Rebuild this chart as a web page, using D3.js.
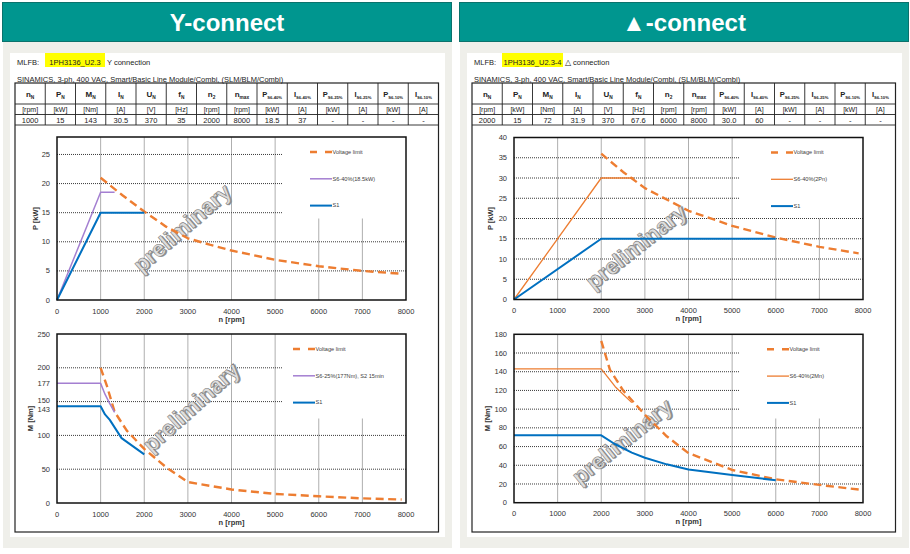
<!DOCTYPE html>
<html>
<head>
<meta charset="utf-8">
<script src="https://cdn.jsdelivr.net/npm/d3@7"></script>
<style>
  body { margin: 0; background: #fff; }
  text { font-family: "Liberation Sans", Arial, sans-serif; }
</style>
</head>
<body>
<svg id="chart" width="910" height="554"></svg>
<script>
// ---- data ----
var rpmTicks = [0, 1000, 2000, 3000, 4000, 5000, 6000, 7000, 8000];

var tableMain = ["n", "P", "M", "I", "U", "f", "n", "n", "P", "I", "P", "I", "P", "I"];
var tableSub = ["N", "N", "N", "N", "N", "N", "2", "max", "S6-40%", "S6-40%", "S6-25%", "S6-25%", "S6-10%", "S6-10%"];
var tableUnits = ["[rpm]", "[kW]", "[Nm]", "[A]", "[V]", "[Hz]", "[rpm]", "[rpm]", "[kW]", "[A]", "[kW]", "[A]", "[kW]", "[A]"];
var yTableValues = ["1000", "15", "143", "30.5", "370", "35", "2000", "8000", "18.5", "37", "-", "-", "-", "-"];
var dTableValues = ["2000", "15", "72", "31.9", "370", "67.6", "6000", "8000", "30.0", "60", "-", "-", "-", "-"];

// Y connection, power
var yPowerVoltN = [1000, 1500, 2000, 2500, 3000, 3500, 4000, 5000, 6000, 7000, 7900];
var yPowerVoltP = [21, 18, 15.2, 12.6, 10.6, 9.5, 8.5, 6.9, 5.8, 5.0, 4.5];
var yPowerS6N = [0, 1000, 1320];
var yPowerS6P = [0, 18.5, 18.5];
var yPowerS1N = [0, 1000, 2000];
var yPowerS1P = [0, 15, 15];
var yPowerTicks = [0, 5, 10, 15, 20, 25];

// Y connection, torque
var yTorqueVoltN = [1000, 1150, 1320, 1600, 2000, 2500, 3000, 4000, 5000, 6000, 7000, 7900];
var yTorqueVoltM = [200, 172, 135, 107, 80, 53, 31, 20, 13.4, 10, 6.8, 5.2];
var yTorqueS6N = [0, 1000, 1100, 1200, 1320];
var yTorqueS6M = [177, 177, 161, 148, 134];
var yTorqueS1N = [0, 1000, 1100, 1210, 1480, 2000];
var yTorqueS1M = [143, 143, 131, 123, 96, 72];
var yTorqueTicks = [0, 50, 100, 143, 150, 177, 200, 250];
var yTorqueGrid = [50, 100, 150, 200];

// Delta connection, power
var dPowerVoltN = [2000, 2500, 3000, 4000, 5000, 6000, 7000, 7900];
var dPowerVoltP = [36, 31.5, 27.5, 21.9, 18.2, 15.3, 13.0, 11.4];
var dPowerS6N = [0, 2000, 2750];
var dPowerS6P = [0, 30, 30];
var dPowerS1N = [0, 2000, 6000];
var dPowerS1P = [0, 15, 15];
var dPowerTicks = [0, 5, 10, 15, 20, 25, 30, 35, 40];

// Delta connection, torque
var dTorqueVoltN = [2000, 2200, 2500, 3000, 3500, 4000, 5000, 6000, 7000, 8000];
var dTorqueVoltM = [173, 142, 120, 94, 71, 53, 35, 25, 19, 13.5];
var dTorqueS6N = [0, 2000, 2320, 2700];
var dTorqueS6M = [143, 143, 124, 107];
var dTorqueS1N = [0, 2000, 2300, 2700, 3000, 3500, 4000, 5000, 6000];
var dTorqueS1M = [72, 72, 63, 53.5, 48, 41, 35.5, 29.5, 24];
var dTorqueTicks = [0, 20, 40, 60, 80, 100, 120, 140, 160, 180];

// ---- styles ----
var ORANGE = "#ed7d31", BLUE = "#0070c0", PURPLE = "#a47fd1";
var styleVolt = { color: ORANGE, width: 2.4, dash: "8,4.5", legendDash: "7,8" };
var styleS1 = { color: BLUE, width: 2, dash: null };
var stylePurple = { color: PURPLE, width: 1.5, dash: null };
var styleOrangeThin = { color: ORANGE, width: 1.3, dash: null };

// small nudges so the close tick labels 143 / 150 don't collide
var tickNudge = { 143: 3.2, 150: -0.8 };

function zip(n, v) { return n.map(function(d, i) { return [d, v[i]]; }); }

var panels = [
  {
    dx: 0, title: "Y-connect", mlfb: "1PH3136_U2.3", conn: "Y connection", hlW: 60,
    values: yTableValues,
    charts: [
      { top: 137, bottom: 300, domain: [0, 28], ticks: yPowerTicks, grid: [5, 10, 15, 20, 25], ylabel: "P [kW]", ylabelDx: -22,
        legX: 253, mark: [125, 91, -41],
        series: [
          { data: zip(yPowerVoltN, yPowerVoltP), st: styleVolt, label: "Voltage limit" },
          { data: zip(yPowerS6N, yPowerS6P), st: stylePurple, label: "S6-40%(18.5kW)" },
          { data: zip(yPowerS1N, yPowerS1P), st: styleS1, label: "S1" }
        ] },
      { top: 334, bottom: 503, domain: [0, 250], ticks: yTorqueTicks, grid: yTorqueGrid, ylabel: "M [Nm]", ylabelDx: -27,
        legX: 236, mark: [134, 73, -42],
        series: [
          { data: zip(yTorqueVoltN, yTorqueVoltM), st: styleVolt, label: "Voltage limit" },
          { data: zip(yTorqueS6N, yTorqueS6M), st: stylePurple, label: "S6-25%(177Nm), S2 15min" },
          { data: zip(yTorqueS1N, yTorqueS1M), st: styleS1, label: "S1" }
        ] }
    ]
  },
  {
    dx: 457, title: "\u25B2-connect", mlfb: "1PH3136_U2.3-4", conn: "\u25B3 connection", hlW: 61,
    values: dTableValues,
    charts: [
      { top: 137.5, bottom: 299.5, domain: [0, 40], ticks: dPowerTicks, grid: [5, 10, 15, 20, 25, 30, 35], ylabel: "P [kW]", ylabelDx: -24,
        legX: 257, mark: [122, 109, -38.5],
        series: [
          { data: zip(dPowerVoltN, dPowerVoltP), st: styleVolt, label: "Voltage limit" },
          { data: zip(dPowerS6N, dPowerS6P), st: styleOrangeThin, label: "S6-40%(2Pn)" },
          { data: zip(dPowerS1N, dPowerS1P), st: styleS1, label: "S1" }
        ] },
      { top: 334.3, bottom: 502.7, domain: [0, 180], ticks: dTorqueTicks, grid: [20, 40, 60, 80, 100, 120, 140, 160], ylabel: "M [Nm]", ylabelDx: -27,
        legX: 253, mark: [108, 107, -39],
        series: [
          { data: zip(dTorqueVoltN, dTorqueVoltM), st: styleVolt, label: "Voltage limit" },
          { data: zip(dTorqueS6N, dTorqueS6M), st: styleOrangeThin, label: "S6-40%(2Mn)" },
          { data: zip(dTorqueS1N, dTorqueS1M), st: styleS1, label: "S1" }
        ] }
    ]
  }
];

var svg = d3.select("#chart");

panels.forEach(function(p) {
  var g = svg.append("g").attr("transform", "translate(" + p.dx + ",0)");

  // grey background + white card
  g.append("rect").attr("x", 3).attr("y", 42).attr("width", 449).attr("height", 506).attr("fill", "#efefea");
  g.append("rect").attr("x", 10).attr("y", 53).attr("width", 435).attr("height", 484).attr("fill", "#fff");

  // teal header
  g.append("rect").attr("x", 2.5).attr("y", 2.5).attr("width", 449).attr("height", 39)
    .attr("fill", "#00968f").attr("stroke", "#0b726c").attr("stroke-width", 1);
  g.append("text").attr("x", 227).attr("y", 31).attr("text-anchor", "middle")
    .attr("fill", "#fff").attr("font-size", 24).attr("font-weight", "bold").text(p.title);

  // MLFB line
  g.append("text").attr("x", 17).attr("y", 64.5).attr("font-size", 7.5).attr("fill", "#222").text("MLFB:");
  g.append("rect").attr("x", 45).attr("y", 53).attr("width", p.hlW).attr("height", 14).attr("fill", "#ffff00");
  g.append("text").attr("x", 47 + p.hlW / 2 - 2).attr("y", 64.5).attr("text-anchor", "middle")
    .attr("font-size", 7.5).attr("fill", "#222").text(p.mlfb);
  g.append("text").attr("x", 47 + p.hlW).attr("y", 65).attr("font-size", 7.5).attr("fill", "#222").text(p.conn);
  g.append("text").attr("x", 17).attr("y", 81.5).attr("font-size", 7.5).attr("fill", "#222")
    .text("SINAMICS, 3-ph, 400 VAC, Smart/Basic Line Module/Combi, (SLM/BLM/Combi)");

  // frame + table
  var fx = 15, fw = 423.5, colW = fw / 14;
  g.append("rect").attr("x", fx).attr("y", 83).attr("width", fw).attr("height", 449)
    .attr("fill", "none").attr("stroke", "#222").attr("stroke-width", 1.2);
  [104, 114.5, 125].forEach(function(y) {
    g.append("line").attr("x1", fx).attr("x2", fx + fw).attr("y1", y).attr("y2", y)
      .attr("stroke", "#222").attr("stroke-width", 0.9);
  });
  d3.range(1, 14).forEach(function(i) {
    g.append("line").attr("x1", fx + i * colW).attr("x2", fx + i * colW).attr("y1", 83).attr("y2", 125)
      .attr("stroke", "#222").attr("stroke-width", 0.9);
  });
  tableMain.forEach(function(m, i) {
    var cx = fx + (i + 0.5) * colW;
    var t = g.append("text").attr("x", cx).attr("y", 97).attr("text-anchor", "middle")
      .attr("font-weight", "bold").attr("fill", "#222");
    t.append("tspan").attr("font-size", tableSub[i].length > 3 ? 7.5 : 8).text(m);
    t.append("tspan").attr("font-size", tableSub[i].length > 3 ? 4.2 : 4.8).attr("dy", 1.5).text(tableSub[i]);
    g.append("text").attr("x", cx).attr("y", 112).attr("text-anchor", "middle")
      .attr("font-size", 7).attr("fill", "#222").text(tableUnits[i]);
    g.append("text").attr("x", cx).attr("y", 122.8).attr("text-anchor", "middle")
      .attr("font-size", 7.5).attr("fill", "#222").text(p.values[i]);
  });

  p.charts.forEach(function(c) { drawChart(g, c); });
});

function drawChart(g, c) {
  var left = 57, right = 406;
  var x = d3.scaleLinear().domain([0, 8000]).range([left, right]);
  var y = d3.scaleLinear().domain(c.domain).range([c.bottom, c.top]);
  var w = right - left, h = c.bottom - c.top;
  var legLeft = left + 0.645 * w, legBottom = c.top + 0.5 * h;

  // vertical grid (interrupted by the legend area on the right)
  rpmTicks.slice(1, -1).forEach(function(n) {
    var gx = x(n);
    g.append("line").attr("x1", gx).attr("x2", gx)
      .attr("y1", gx > legLeft ? legBottom : c.top).attr("y2", c.bottom)
      .attr("stroke", "#a6a6a6").attr("stroke-width", 0.9);
  });
  // horizontal dotted grid
  c.grid.forEach(function(v) {
    var gy = y(v);
    g.append("line").attr("x1", left).attr("x2", gy < legBottom ? legLeft : right)
      .attr("y1", gy).attr("y2", gy)
      .attr("stroke", "#3a3a3a").attr("stroke-width", 1).attr("stroke-dasharray", "1,1");
  });

  // watermark
  var wm = g.append("g").attr("transform", "translate(" + (left + c.mark[0]) + "," + (c.top + c.mark[1]) + ") rotate(" + c.mark[2] + ")");
  wm.append("text").attr("x", 1).attr("y", 1.3).attr("text-anchor", "middle").attr("dy", "0.35em")
    .attr("font-size", 22.5).attr("font-weight", "bold").attr("fill", "#8f8f8f").text("preliminary");
  wm.append("text").attr("text-anchor", "middle").attr("dy", "0.35em")
    .attr("font-size", 22.5).attr("font-weight", "bold").attr("fill", "#dedede")
    .attr("stroke", "#7d7d7d").attr("stroke-width", 0.6).text("preliminary");

  // series
  var line = d3.line().x(function(d) { return x(d[0]); }).y(function(d) { return y(d[1]); });
  c.series.forEach(function(s) {
    g.append("path").attr("d", line(s.data)).attr("fill", "none")
      .attr("stroke", s.st.color).attr("stroke-width", s.st.width)
      .attr("stroke-dasharray", s.st.dash).attr("stroke-linejoin", "round");
  });

  // legend
  c.series.forEach(function(s, i) {
    var ly = c.top + 15 + i * 26.8, lx = left + c.legX;
    g.append("line").attr("x1", lx).attr("x2", lx + 22).attr("y1", ly).attr("y2", ly)
      .attr("stroke", s.st.color).attr("stroke-width", s.st.width)
      .attr("stroke-dasharray", s.st.legendDash || null);
    g.append("text").attr("x", lx + 22.5).attr("y", ly + 1.8).attr("font-size", 5.6)
      .attr("fill", "#404040").text(s.label);
  });

  // plot border
  g.append("rect").attr("x", left).attr("y", c.top).attr("width", w).attr("height", h)
    .attr("fill", "none").attr("stroke", "#111").attr("stroke-width", 1.5);

  // ticks
  rpmTicks.forEach(function(n) {
    g.append("text").attr("x", x(n)).attr("y", c.bottom + 13.5).attr("text-anchor", "middle")
      .attr("font-size", 7.5).attr("fill", "#333").text(n);
  });
  c.ticks.forEach(function(v) {
    var nudge = c.ticks.indexOf(143) >= 0 ? (tickNudge[v] || 0) : 0;
    g.append("text").attr("x", left - 7).attr("y", y(v) + 2.6 + nudge).attr("text-anchor", "end")
      .attr("font-size", 7.5).attr("fill", "#333").text(v);
  });
  g.append("text").attr("x", (left + right) / 2).attr("y", c.bottom + 21.5).attr("text-anchor", "middle")
    .attr("font-size", 7.5).attr("font-weight", "bold").attr("fill", "#333").text("n [rpm]");
  g.append("text").attr("transform", "translate(" + (left + c.ylabelDx) + "," + ((c.top + c.bottom) / 2) + ") rotate(-90)")
    .attr("text-anchor", "middle").attr("dy", "0.35em")
    .attr("font-size", 7.5).attr("font-weight", "bold").attr("fill", "#333").text(c.ylabel);
}
</script>
</body>
</html>
